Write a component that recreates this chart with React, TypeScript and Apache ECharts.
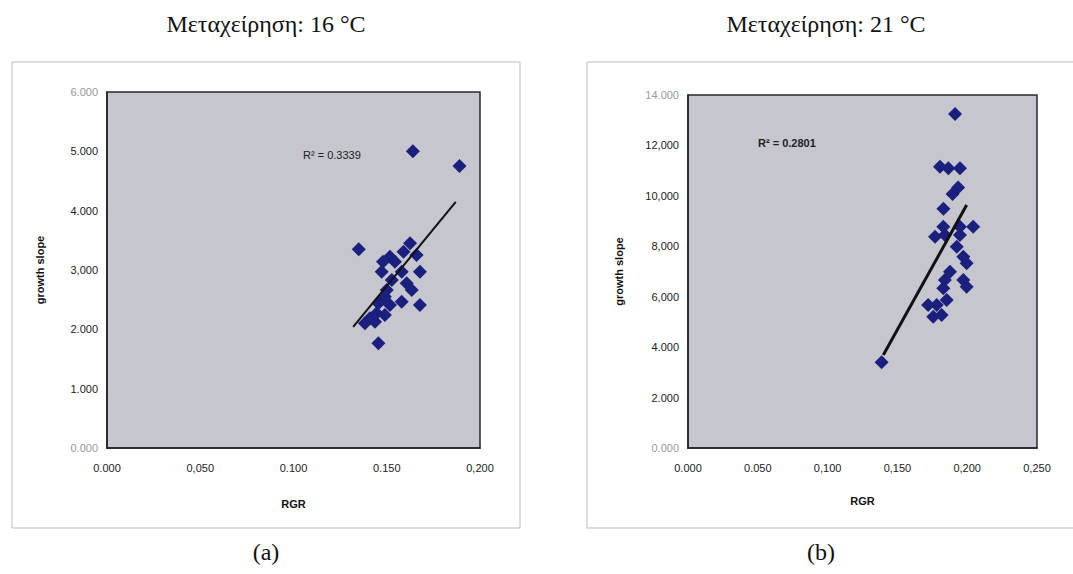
import React, { useEffect, useRef } from "react";
import * as echarts from "echarts";

// ---- Data ----
const titleA = "Μεταχείρηση: 16 °C";
const titleB = "Μεταχείρηση: 21 °C";
const captionA = "(a)";
const captionB = "(b)";
const xName = "RGR";
const yName = "growth slope";

const leftX = [0.164, 0.189, 0.135, 0.1455, 0.1625, 0.159, 0.1517, 0.166, 0.148, 0.1544, 0.1473, 0.158, 0.1678, 0.1527, 0.1607, 0.150, 0.1634, 0.149, 0.158, 0.1455, 0.1517, 0.1678, 0.1446, 0.149, 0.141, 0.1383, 0.1437];
const leftY = [5000, 4752, 3348, 1764, 3450, 3308, 3223, 3252, 3139, 3139, 2970, 2970, 2970, 2831, 2775, 2662, 2662, 2550, 2465, 2438, 2410, 2410, 2269, 2241, 2185, 2101, 2128];
const leftTrendX = [0.132, 0.187];
const leftTrendY = [2040, 4150];
const leftR2 = "R² = 0.3339";

const rightX = [0.1913, 0.1387, 0.1865, 0.1805, 0.1948, 0.1935, 0.1895, 0.183, 0.1829, 0.1948, 0.2043, 0.177, 0.184, 0.1948, 0.1925, 0.1972, 0.1996, 0.1877, 0.184, 0.1972, 0.1996, 0.1829, 0.1853, 0.1782, 0.1817, 0.172, 0.1757];
const rightY = [13246, 3399, 11093, 11156, 11093, 10330, 10070, 9490, 8777, 8777, 8777, 8380, 8447, 8447, 7983, 7587, 7325, 6992, 6663, 6663, 6398, 6333, 5870, 5672, 5275, 5672, 5207];
const rightTrendX = [0.1399, 0.1996];
const rightTrendY = [3688, 9637];
const rightR2 = "R² = 0.2801";

const leftYTicks = ["0.000", "1.000", "2.000", "3,000", "4.000", "5.000", "6.000"];
const leftXTicks = ["0.000", "0,050", "0.100", "0.150", "0,200"];
const rightYTicks = ["0.000", "2.000", "4.000", "6,000", "8,000", "10,000", "12,000", "14.000"];
const rightXTicks = ["0.000", "0.050", "0,100", "0,150", "0,200", "0,250"];

const pairs = (xs: number[], ys: number[]) => xs.map((x, i) => [x, ys[i]]);

export default function App() {
  const ref = useRef<HTMLDivElement>(null);
  useEffect(() => {
    if (!ref.current) return;
    const chart = echarts.init(ref.current, null, { renderer: "svg" });
    const labelFont = "Arial, 'Liberation Sans', sans-serif";
    const serif = "'Liberation Serif', 'DejaVu Serif', serif";
    const mkYLabel = (ticks: string[], interval: number) => ({
      color: "#222",
      fontSize: 11,
      fontFamily: labelFont,
      margin: 9,
      formatter: (v: number) => {
        const i = Math.round(v / interval);
        const t = ticks[i] ?? "";
        return i === 0 || i === ticks.length - 1 ? `{f|${t}}` : t;
      },
      rich: { f: { color: "#9a9a9a", fontSize: 11, fontFamily: labelFont } },
    });
    const mkXLabel = (ticks: string[], interval: number) => ({
      color: "#222",
      fontSize: 11,
      fontFamily: labelFont,
      margin: 14,
      formatter: (v: number) => ticks[Math.round(v / interval)] ?? "",
    });
    const axisLine = { show: true, lineStyle: { color: "#222", width: 1.5 } };
    const nameStyle = { color: "#111", fontSize: 11, fontWeight: "bold" as const, fontFamily: labelFont };
    const marker = { color: "#1b1f7d", opacity: 1 };

    chart.setOption({
      animation: false,
      backgroundColor: "#ffffff",
      grid: [
        { left: 107, top: 92, width: 373, height: 356, show: true, backgroundColor: "#c5c6ce", borderColor: "#2a2a2a", borderWidth: 1.5 },
        { left: 688, top: 95, width: 349, height: 353, show: true, backgroundColor: "#c5c6ce", borderColor: "#2a2a2a", borderWidth: 1.5 },
      ],
      xAxis: [
        { type: "value", gridIndex: 0, min: 0, max: 0.2, interval: 0.05, name: xName, nameLocation: "middle", nameGap: 50, nameTextStyle: nameStyle, axisLine, axisTick: { show: false }, splitLine: { show: false }, axisLabel: mkXLabel(leftXTicks, 0.05) },
        { type: "value", gridIndex: 1, min: 0, max: 0.25, interval: 0.05, name: xName, nameLocation: "middle", nameGap: 47, nameTextStyle: nameStyle, axisLine, axisTick: { show: false }, splitLine: { show: false }, axisLabel: mkXLabel(rightXTicks, 0.05) },
      ],
      yAxis: [
        { type: "value", gridIndex: 0, min: 0, max: 6000, interval: 1000, name: yName, nameLocation: "middle", nameGap: 62, nameTextStyle: nameStyle, axisLine, axisTick: { show: false }, splitLine: { show: false }, axisLabel: mkYLabel(leftYTicks, 1000) },
        { type: "value", gridIndex: 1, min: 0, max: 14000, interval: 2000, name: yName, nameLocation: "middle", nameGap: 64, nameTextStyle: nameStyle, axisLine, axisTick: { show: false }, splitLine: { show: false }, axisLabel: mkYLabel(rightYTicks, 2000) },
      ],
      series: [
        { type: "scatter", xAxisIndex: 0, yAxisIndex: 0, symbol: "diamond", symbolSize: 14, itemStyle: marker, data: pairs(leftX, leftY) },
        { type: "line", xAxisIndex: 0, yAxisIndex: 0, symbol: "none", lineStyle: { color: "#111", width: 2 }, data: pairs(leftTrendX, leftTrendY), z: 3 },
        { type: "scatter", xAxisIndex: 1, yAxisIndex: 1, symbol: "diamond", symbolSize: 14, itemStyle: marker, data: pairs(rightX, rightY) },
        { type: "line", xAxisIndex: 1, yAxisIndex: 1, symbol: "none", lineStyle: { color: "#111", width: 3 }, data: pairs(rightTrendX, rightTrendY), z: 3 },
      ],
      graphic: [
        { type: "rect", shape: { x: 12, y: 62, width: 508, height: 466 }, style: { fill: "none", stroke: "#bdbdbd", lineWidth: 1 }, z: -10 },
        { type: "rect", shape: { x: 587, y: 62, width: 500, height: 466 }, style: { fill: "none", stroke: "#bdbdbd", lineWidth: 1 }, z: -10 },
        { type: "text", x: 266, y: 24, style: { text: titleA, fill: "#111", fontSize: 24, fontFamily: serif, textAlign: "center", textVerticalAlign: "middle" } },
        { type: "text", x: 826, y: 24, style: { text: titleB, fill: "#111", fontSize: 24, fontFamily: serif, textAlign: "center", textVerticalAlign: "middle" } },
        { type: "text", x: 266, y: 552, style: { text: captionA, fill: "#111", fontSize: 24, fontFamily: serif, textAlign: "center", textVerticalAlign: "middle" } },
        { type: "text", x: 821, y: 552, style: { text: captionB, fill: "#111", fontSize: 24, fontFamily: serif, textAlign: "center", textVerticalAlign: "middle" } },
        { type: "text", x: 303, y: 155, style: { text: leftR2, fill: "#222", fontSize: 11, fontFamily: labelFont, textAlign: "left", textVerticalAlign: "middle" }, z: 10 },
        { type: "text", x: 758, y: 143, style: { text: rightR2, fill: "#222", fontSize: 11, fontWeight: "bold", fontFamily: labelFont, textAlign: "left", textVerticalAlign: "middle" }, z: 10 },
      ],
    });
    return () => chart.dispose();
  }, []);
  return <div ref={ref} style={{ position: "fixed", left: 0, top: 0, width: 1073, height: 574 }} />;
}
